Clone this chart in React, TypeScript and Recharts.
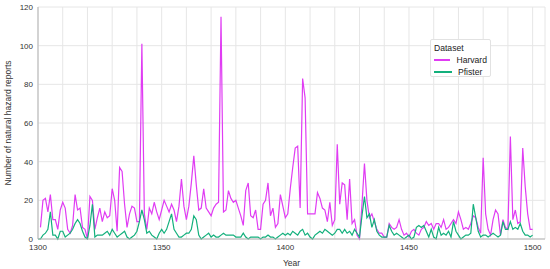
import React from "react";
import {
  LineChart,
  Line,
  XAxis,
  YAxis,
  CartesianGrid,
  Legend,
} from "recharts";

// one value per year, 1300 .. 1500
const firstYear = 1300;
const years = Array.from({ length: 201 }, (_, i) => firstYear + i);

const harvard: (number | null)[] = [
  null, 6, 20, 21, 14, 23, 10, 10, 5, 15,
  19, 16, 5, 3, 7, 23, 15, 16, 6, 5,
  0, 22, 20, 5, 11, 16, 9, 14, 11, 12,
  26, 20, 4, 37, 35, 18, 6, 13, 17, 16,
  9, 9, 101, 13, 5, 16, 13, 19, 14, 10,
  15, 20, 17, 14, 18, 15, 9, 17, 31, 17,
  10, 17, 29, 43, 28, 15, 16, 26, 16, 14,
  12, 16, 18, 19, 115, 14, 15, 25, 21, 19,
  20, 16, 12, 7, 25, 29, 12, 11, 15, 5,
  5, 18, 20, 29, 12, 16, 6, 8, 23, 17,
  11, 13, 26, 37, 47, 48, 16, 83, 73, 13,
  13, 13, 13, 24, 21, 16, 15, 9, 19, 7,
  10, 49, 18, 29, 28, 10, 31, 8, 10, 2,
  0, 18, 39, 20, 11, 13, 9, 5, 3, 3,
  1, 1, 8, 6, 5, 6, 10, 5, 2, 3,
  1, 4, 5, 3, 2, 5, 6, 9, 7, 8,
  5, 8, 8, 6, 10, 5, 6, 8, 10, 8,
  14, 10, 5, 6, 5, 8, 12, 11, 6, 3,
  42, 13, 5, 2, 10, 15, 13, 2, 10, 6,
  5, 53, 10, 15, 8, 9, 47, 27, 13, 5,
  5,
];

const pfister: number[] = [
  0, 0, 2, 3, 5, 14, 2, 2, 0, 4,
  4, 1, 2, 3, 5, 8, 10, 8, 4, 1,
  0, 7, 18, 1, 2, 2, 2, 3, 4, 2,
  5, 3, 1, 2, 3, 4, 1, 0, 1, 2,
  4, 9, 15, 10, 3, 4, 2, 1, 0, 3,
  5, 3, 5, 9, 13, 5, 3, 1, 1, 2,
  3, 3, 5, 12, 10, 2, 0, 1, 2, 3,
  1, 2, 1, 1, 2, 3, 2, 2, 2, 2,
  1, 1, 1, 3, 1, 0, 1, 1, 1, 1,
  0, 1, 1, 2, 1, 1, 0, 1, 2, 3,
  2, 3, 2, 4, 3, 2, 4, 5, 2, 3,
  1, 0, 2, 3, 4, 3, 5, 4, 3, 2,
  3, 5, 5, 3, 5, 3, 4, 2, 5, 3,
  1, 12, 22, 11, 13, 6, 10, 4, 2, 1,
  1, 1, 7, 4, 2, 3, 2, 1, 0, 1,
  2, 0, 1, 6, 7, 6, 7, 4, 1, 5,
  1, 0, 6, 2, 3, 2, 4, 1, 9, 4,
  2, 0, 1, 2, 2, 3, 18, 11, 4, 1,
  2, 2, 1, 2, 3, 2, 1, 2, 9, 5,
  5, 9, 5, 6, 5, 8, 4, 2, 2, 1,
  2,
];

const xTicks = [
  1300, 1310, 1320, 1330, 1340, 1350, 1360, 1370, 1380, 1390, 1400,
  1410, 1420, 1430, 1440, 1450, 1460, 1470, 1480, 1490, 1500,
];
const yTicks = [0, 20, 40, 60, 80, 100, 120];

const seriesColors: Record<string, string> = {
  Harvard: "#e03cf3",
  Pfister: "#13b07c",
};

const data = years.map((year, i) => ({
  year,
  Harvard: harvard[i],
  Pfister: pfister[i],
}));

const FONT = '"Liberation Sans", Arial, sans-serif';

function DatasetLegend({ payload }: any) {
  return (
    <div
      style={{
        border: "1px solid #e2e2e2",
        borderRadius: 2,
        background: "#fff",
        padding: "2px 3px 2px 3px",
        fontFamily: FONT,
        fontSize: 8.6,
        color: "#222",
        lineHeight: "12px",
        boxSizing: "border-box",
        height: 38,
      }}
    >
      <div>Dataset</div>
      {(payload || []).map((p: any) => (
        <div key={p.value} style={{ display: "flex", alignItems: "center" }}>
          <span
            style={{
              display: "inline-block",
              width: 18,
              height: 1.3,
              background: seriesColors[p.value] || p.color,
              marginRight: 6,
            }}
          />
          <span>{p.value}</span>
        </div>
      ))}
    </div>
  );
}

export default function App() {
  return (
    <div style={{ position: "absolute", left: 0, top: 0, background: "#fff" }}>
      <LineChart
        width={550}
        height={269}
        data={data}
        margin={{ top: 7, right: 5, bottom: 0, left: 0 }}
      >
        <CartesianGrid stroke="#e6e6e6" strokeWidth={1} />
        <XAxis
          dataKey="year"
          type="number"
          domain={[1300, 1505]}
          ticks={xTicks}
          interval={0}
          height={30}
          tickSize={0}
          tickMargin={5}
          tickFormatter={(v: number) => (v % 50 === 0 ? String(v) : "")}
          tick={{ fontSize: 8, fill: "#333", fontFamily: FONT }}
          axisLine={{ stroke: "#b3b3b3" }}
          label={{
            value: "Year",
            position: "insideBottom",
            offset: 3,
            style: { fontSize: 8.5, fill: "#333", fontFamily: FONT },
          }}
        />
        <YAxis
          type="number"
          domain={[0, 120]}
          ticks={yTicks}
          interval={0}
          width={38}
          tickSize={0}
          tickMargin={5}
          tick={{ fontSize: 8, fill: "#333", fontFamily: FONT }}
          axisLine={{ stroke: "#b3b3b3" }}
          label={{
            value: "Number of natural hazard reports",
            angle: -90,
            position: "insideLeft",
            offset: 8,
            style: { fontSize: 8.5, fill: "#333", fontFamily: FONT, textAnchor: "middle" },
          }}
        />
        <Legend
          layout="vertical"
          align="center"
          verticalAlign="middle"
          wrapperStyle={{ left: 430, top: 39, width: 61, height: 38 }}
          content={<DatasetLegend />}
        />
        <Line
          type="linear"
          dataKey="Harvard"
          stroke={seriesColors.Harvard}
          strokeWidth={1.2}
          dot={false}
          isAnimationActive={false}
        />
        <Line
          type="linear"
          dataKey="Pfister"
          stroke={seriesColors.Pfister}
          strokeWidth={1.2}
          dot={false}
          isAnimationActive={false}
        />
      </LineChart>
    </div>
  );
}
